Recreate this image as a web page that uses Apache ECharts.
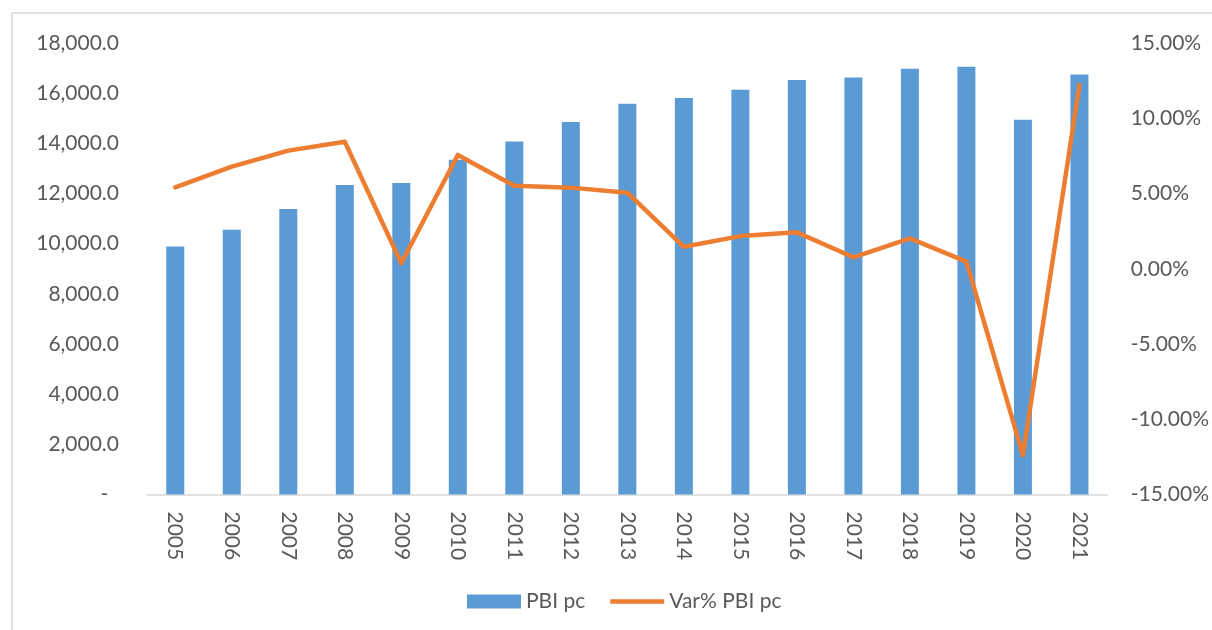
<!DOCTYPE html>
<html>
<head>
<meta charset="utf-8">
<script src="https://cdn.jsdelivr.net/npm/echarts@6/dist/echarts.min.js"></script>
<style>
html,body{margin:0;padding:0;background:#fff;}
#c{width:1212px;height:630px;}
</style>
</head>
<body>
<div id="c"></div>
<script>
const years = ['2005','2006','2007','2008','2009','2010','2011','2012','2013','2014','2015','2016','2017','2018','2019','2020','2021'];
const pbiPc = [9886,10552,11378,12335,12415,13345,14075,14849,15579,15806,16137,16524,16628,16975,17055,14940,16747];
const varPbiPc = [5.41,6.78,7.85,8.44,0.36,7.56,5.52,5.39,5.05,1.46,2.17,2.42,0.76,2.02,0.47,-12.39,12.21];
const seriesNames = ['PBI pc','Var% PBI pc'];

const FONT = 'Lato, "Open Sans", sans-serif';
const TXT = '#595959';
const chart = echarts.init(document.getElementById('c'), null, {renderer:'canvas'});
chart.setOption({
  animation:false,
  backgroundColor:'#fff',
  graphic:[{type:'rect',shape:{x:12,y:13,width:1230,height:650},style:{fill:'none',stroke:'#D9D9D9',lineWidth:1.5},silent:true,z:-1}],
  grid:{left:147,right:102,top:43,bottom:135.5,containLabel:false},
  legend:{
    data:[{name:seriesNames[0], icon:'rect'},{name:seriesNames[1], icon:'path://M0,0 L12,0 L12,1 L0,1 Z'}],
    left:467, top:591, padding:0, itemWidth:54, itemHeight:14, itemGap:25,
    textStyle:{color:TXT,fontSize:21,fontFamily:FONT}
  },
  xAxis:{
    type:'category', data:years,
    axisLine:{lineStyle:{color:'#D9D9D9',width:1.5}},
    axisTick:{show:false},
    axisLabel:{rotate:-90,margin:17,color:TXT,fontSize:21,fontFamily:FONT}
  },
  yAxis:[{
    type:'value', min:0, max:18000, interval:2000,
    splitLine:{show:false}, axisLine:{show:false}, axisTick:{show:false},
    axisLabel:{margin:28,color:TXT,fontSize:21,fontFamily:FONT,
      formatter:v=> v===0 ? '-  ' : v.toLocaleString('en-US',{minimumFractionDigits:1,maximumFractionDigits:1})}
  },{
    type:'value', min:-15, max:15, interval:5,
    splitLine:{show:false}, axisLine:{show:false}, axisTick:{show:false},
    axisLabel:{margin:23,color:TXT,fontSize:21,fontFamily:FONT,formatter:v=>v.toFixed(2)+'%'}
  }],
  series:[{
    name:seriesNames[0], type:'bar', data:pbiPc, barWidth:18,
    itemStyle:{color:'#5B9BD5'}
  },{
    name:seriesNames[1], type:'line', yAxisIndex:1, data:varPbiPc,
    symbol:'none', lineStyle:{color:'#ED7D31',width:4.5,join:'round',cap:'round'},
    itemStyle:{color:'#ED7D31'}
  }]
});
</script>
</body>
</html>
